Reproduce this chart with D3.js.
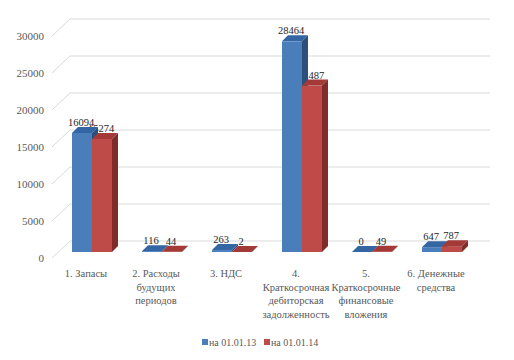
<!DOCTYPE html>
<html><head><meta charset="utf-8">
<script src="https://cdn.jsdelivr.net/npm/d3@7"></script>
<style>body{margin:0;background:#fff}svg{display:block}</style>
</head><body>
<script>
const categories = [
  ["1. Запасы"],
  ["2. Расходы", "будущих", "периодов"],
  ["3. НДС"],
  ["4.", "Краткосрочная", "дебиторская", "задолженность"],
  ["5.", "Краткосрочные", "финансовые", "вложения"],
  ["6. Денежные", "средства"]
];
const seriesNames = ["на 01.01.13", "на 01.01.14"];
const values2013 = [16094, 116, 263, 28464, 0, 647];
const values2014 = [15274, 44, 2, 22487, 49, 787];
const yTicks = [0, 5000, 10000, 15000, 20000, 25000, 30000];

const W = 514, H = 360;
const FF = "'Liberation Serif', serif";
const svg = d3.select("body").append("svg").attr("width", W).attr("height", H)
  .style("font-family", FF);

const x = d3.scaleBand().domain(d3.range(categories.length)).range([57, 477]).padding(0);
const y = d3.scaleLinear().domain([0, 30000]).range([252, 30]);
const bw = 20, ddx = 6, ddy = 6;      // bar depth
const wallDx = 18, wallDy = 17;       // wall depth
const wallOff = 11;                    // back wall vs bar front

// back wall gridlines and side diagonals
const grid = svg.append("g");
yTicks.forEach(t => {
  const yb = y(t) - wallOff;
  grid.append("line").attr("x1", 70).attr("x2", 490).attr("y1", yb).attr("y2", yb)
    .attr("stroke", "#d9d9d9").attr("stroke-width", 1);
  grid.append("line").attr("x1", 70 - wallDx).attr("y1", yb + wallDy).attr("x2", 70).attr("y2", yb)
    .attr("stroke", "#d9d9d9").attr("stroke-width", 1);
  svg.append("text").attr("x", 44).attr("y", yb + wallDy + 4)
    .attr("text-anchor", "end").style("font-size", "11px")
    .attr("fill", "#595959").text(t);
});

const series = [
  {vals: values2013, off: -bw, front: "#4A7EBB", top: "#3466A3", side: "#2C4F7C"},
  {vals: values2014, off: 0, front: "#BE4B48", top: "#A33A38", side: "#7F2C2A"}
];

// data labels (drawn under the bars)
series.forEach(s => {
  svg.append("g").selectAll("text").data(s.vals).join("text")
    .attr("x", (d, i) => x(i) + x.bandwidth() / 2 + s.off + bw / 2 - 1)
    .attr("y", d => y(d) - ddy - 1)
    .attr("text-anchor", "middle").style("font-size", "10.5px")
    .attr("fill", "#262626").text(d => d);
});

// bars
series.forEach(s => {
  const g = svg.append("g");
  s.vals.forEach((d, i) => {
    const x0 = x(i) + x.bandwidth() / 2 + s.off, x1 = x0 + bw;
    const yt = y(d), yb = y(0);
    g.append("rect").attr("x", x0).attr("y", yt).attr("width", bw).attr("height", Math.max(0, yb - yt)).attr("fill", s.front);
    g.append("path").attr("d", `M${x0},${yt}L${x0+ddx},${yt-ddy}L${x1+ddx},${yt-ddy}L${x1},${yt}Z`).attr("fill", s.top);
    g.append("path").attr("d", `M${x1},${yt}L${x1+ddx},${yt-ddy}L${x1+ddx},${yb-ddy}L${x1},${yb}Z`).attr("fill", s.side);
  });
});

// category labels
categories.forEach((lines, i) => {
  const t = svg.append("text").attr("text-anchor", "middle")
    .style("font-size", "10.5px").attr("fill", "#595959");
  lines.forEach((ln, j) => {
    t.append("tspan").attr("x", x(i) + x.bandwidth() / 2 - 6).attr("y", 277 + j * 13.5).text(ln);
  });
});

// legend
const leg = [{x: 202, c: series[0].front, t: seriesNames[0]}, {x: 264, c: series[1].front, t: seriesNames[1]}];
leg.forEach(l => {
  svg.append("rect").attr("x", l.x).attr("y", 339).attr("width", 6).attr("height", 6).attr("fill", l.c);
  svg.append("text").attr("x", l.x + 7).attr("y", 346).style("font-size", "10px")
    .attr("fill", "#595959").text(l.t);
});
</script>
</body></html>
